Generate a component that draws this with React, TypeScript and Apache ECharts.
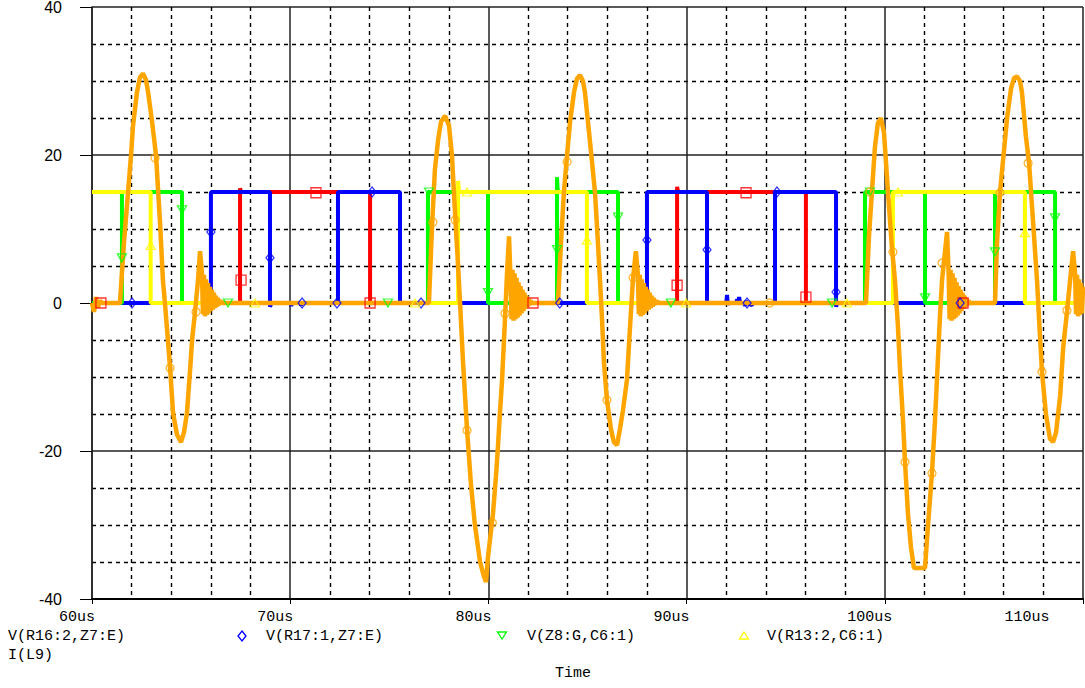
import React, { useEffect, useRef } from "react";
import * as echarts from "echarts";

const SERIES_NAMES = ["V(R16:2,Z7:E)", "V(R17:1,Z7:E)", "V(Z8:G,C6:1)", "V(R13:2,C6:1)", "I(L9)"];
const COLORS = ["#ff0000", "#0000ff", "#00ff00", "#ffff00", "#ffa500"];
const X_UNIT = "us";
const X_AXIS_NAME = "Time";

// V(R16:2,Z7:E)
const RED: number[][] = [
  [60, 0], [67.47, 0], [67.47, 15.5], [67.52, 15], [74.03, 15], [74.03, 0],
  [89.52, 0], [89.52, 15.7], [89.57, 15], [96.02, 15], [96.02, 0], [110, 0],
];

// V(R17:1,Z7:E)
const BLUE: number[][] = [
  [60, 0], [66.0, 0], [66.0, 15], [68.98, 15], [68.98, -0.5], [69.05, 0],
  [70.0, 0], [70.05, -0.4], [70.1, 0], [70.5, 0], [70.55, -0.3], [70.6, 0],
  [72.41, 0], [72.41, 15], [75.54, 15], [75.54, 0],
  [88.0, 0], [88.0, 15], [91.03, 15], [91.03, 0],
  [92.0, 0], [92.04, 1.1], [92.08, -0.2], [92.12, 0], [92.5, 0], [92.55, 0.5], [92.6, -0.2],
  [92.65, 0.8], [92.7, 0], [92.9, 0], [92.95, -0.4], [93.0, 0.3], [93.05, 0], [93.3, -0.3], [93.35, 0],
  [94.46, 0], [94.46, 15], [97.54, 15], [97.54, -0.5], [97.6, 0], [110, 0],
];

// V(Z8:G,C6:1)
const GREEN: number[][] = [
  [60, 0], [61.51, 0], [61.51, 15], [64.54, 15], [64.54, 0],
  [76.95, 0], [76.95, 15], [79.98, 15], [79.98, 0],
  [83.46, 0], [83.46, 17], [83.5, 15], [86.54, 15], [86.54, 0],
  [99.0, 0], [99.0, 15], [102.03, 15], [102.03, 0],
  [105.56, 0], [105.56, 15], [108.59, 15], [108.59, 0], [110, 0],
];

// V(R13:2,C6:1)
const YELLOW: number[][] = [
  [60, 15], [62.96, 15], [62.96, 0],
  [78.47, 0], [78.47, 16.5], [78.52, 15], [84.97, 15], [84.97, 0],
  [100.41, 0], [100.41, 15], [107.07, 15], [107.07, 0], [110, 0],
];

// I(L9)
const ORANGE: number[][] = [
  [60.0, 0], [60.1, -1.2], [60.2, 0.8], [60.3, -0.6], [60.4, 0.3], [60.5, 0], [61.41, 0],
  [61.61, 8], [61.82, 15], [61.97, 20], [62.07, 24], [62.27, 28.5], [62.42, 30.5], [62.57, 31],
  [62.72, 30.2], [62.83, 28.5], [63.03, 24.5], [63.23, 20], [63.43, 11], [63.58, 3], [63.68, 0],
  [63.83, -5], [63.94, -8.8], [64.09, -14.9], [64.29, -17.8], [64.49, -18.8], [64.64, -17.5],
  [64.79, -14.9], [64.95, -9], [65.05, -5], [65.2, -1.2], [65.35, 3.1], [65.45, 7], [65.55, 4],
  [65.6, -1.5], [65.65, 3.8], [65.7, -1.8], [65.75, 3.2], [65.8, -1.6], [65.85, 2.7], [65.9, -1.4],
  [65.95, 2.2], [66.0, -1.1], [66.05, 1.8], [66.1, -0.9], [66.15, 1.4], [66.2, -0.7], [66.25, 1.0],
  [66.3, -0.5], [66.35, 0.7], [66.4, -0.3], [66.45, 0.4], [66.5, -0.1], [66.55, 0.2], [66.6, 0],
  [77.0, 0], [77.15, 10], [77.3, 18], [77.46, 22], [77.61, 24.5], [77.81, 25.3], [78.01, 24],
  [78.16, 20], [78.3, 13], [78.45, 6], [78.57, 0], [78.72, -8], [78.92, -17], [79.12, -24.5],
  [79.32, -30], [79.58, -35], [79.78, -37], [79.88, -37.7], [79.98, -34.3], [80.08, -32],
  [80.23, -28.5], [80.38, -23.5], [80.48, -19.5], [80.59, -14.5], [80.69, -10.4], [80.84, -2],
  [80.94, 4], [81.04, 9], [81.12, 3],
  [81.17, -2.2], [81.22, 4.5], [81.27, -2.4], [81.32, 4.0], [81.37, -2.2], [81.42, 3.4], [81.47, -2.0],
  [81.52, 2.8], [81.57, -1.7], [81.62, 2.3], [81.67, -1.4], [81.72, 1.8], [81.77, -1.1], [81.82, 1.4],
  [81.87, -0.8], [81.92, 1.0], [81.97, -0.5], [82.02, 0.6], [82.07, -0.3], [82.12, 0.3], [82.2, 0],
  [83.51, 0], [83.66, 8], [83.81, 15], [83.97, 20], [84.12, 24.5], [84.32, 28.5], [84.47, 30.3],
  [84.62, 30.8], [84.77, 30], [84.87, 28.5], [85.08, 23], [85.23, 19], [85.38, 14.9], [85.53, 8],
  [85.63, 3.1], [85.73, -2], [85.83, -8], [85.98, -13.1], [86.18, -17], [86.33, -18.8], [86.49, -19.2],
  [86.64, -17], [86.79, -14.5], [86.99, -10.4], [87.14, -3.5], [87.29, 3.1], [87.44, 7], [87.54, 4],
  [87.59, -1.5], [87.64, 3.8], [87.69, -1.8], [87.74, 3.2], [87.79, -1.6], [87.84, 2.7], [87.89, -1.4],
  [87.94, 2.2], [87.99, -1.1], [88.04, 1.8], [88.09, -0.9], [88.14, 1.4], [88.19, -0.7], [88.24, 1.0],
  [88.29, -0.5], [88.34, 0.7], [88.39, -0.3], [88.44, 0.4], [88.49, -0.1], [88.54, 0.2], [88.6, 0],
  [99.05, 0], [99.2, 9], [99.35, 15], [99.5, 21], [99.65, 24.3], [99.8, 25], [99.96, 23],
  [100.16, 15], [100.36, 7.5], [100.51, 3.1], [100.66, -3], [100.77, -9], [100.92, -16],
  [101.02, -21.5], [101.17, -28.5], [101.32, -33], [101.47, -35.8], [101.77, -35.8], [102.03, -35.8],
  [102.18, -30], [102.38, -23], [102.53, -16], [102.63, -10.4], [102.78, -2], [102.89, 3.1],
  [103.04, 7], [103.14, 9.6], [103.22, 4],
  [103.27, -2.2], [103.32, 4.5], [103.37, -2.4], [103.42, 4.0], [103.47, -2.2], [103.52, 3.4], [103.57, -2],
  [103.62, 2.8], [103.67, -1.7], [103.72, 2.3], [103.77, -1.4], [103.82, 1.8], [103.87, -1.1], [103.92, 1.4],
  [103.97, -0.8], [104.02, 1.0], [104.07, -0.5], [104.12, 0.6], [104.17, -0.3], [104.22, 0.3], [104.3, 0],
  [105.56, 0], [105.66, 8], [105.81, 14.9], [106.01, 20.5], [106.17, 25], [106.37, 29], [106.52, 30.4],
  [106.67, 30.6], [106.82, 30], [106.92, 28.5], [107.12, 22.5], [107.28, 18.9], [107.48, 11],
  [107.68, 3.1], [107.78, -2], [107.93, -9.3], [108.13, -15], [108.33, -18.3], [108.49, -18.8],
  [108.64, -17.5], [108.85, -12.5], [109.0, -6], [109.2, -1], [109.35, 3.1], [109.5, 7], [109.6, 4],
  [109.65, -1.5], [109.7, 3.8], [109.75, -1.8], [109.8, 3.2], [109.85, -1.6], [109.9, 2.7], [109.95, -1.4],
  [110, 2.2],
];

// trace markers
const RED_MARKS: number[][] = [
  [60.45, 0], [67.52, 3.1], [71.3, 14.9], [74.03, 0], [82.25, 0], [89.52, 2.4], [93.0, 14.9], [96.02, 0.8], [103.95, 0],
];
const BLUE_MARKS: number[][] = [
  [62.02, 0], [66.0, 9.6], [68.98, 6.1], [70.6, 0], [72.36, 0], [74.13, 15], [76.6, 0], [83.6, 0],
  [88.0, 8.5], [91.03, 7.2], [93.05, 0], [94.56, 15], [97.54, 1.5], [103.8, 0],
];
const GREEN_MARKS: number[][] = [
  [61.51, 6.1], [64.54, 12.6], [66.86, 0], [74.93, 0], [77.0, 15], [79.98, 1.4], [83.46, 7.2],
  [86.54, 11.6], [89.21, 0], [97.34, 0], [99.25, 15], [102.03, 0.7], [105.56, 6.9], [108.59, 11.5],
];
const YELLOW_MARKS: number[][] = [
  [62.96, 7.8], [68.22, 0], [76.3, 0], [78.92, 15], [84.97, 8.5], [89.97, 0], [98.09, 0], [100.67, 15], [107.07, 9.5],
];
const ORANGE_MARKS: number[][] = [
  [63.18, 19.6], [63.94, -8.8], [65.25, -1.2], [77.2, 10.9], [78.32, 11.2], [78.92, -17.2], [80.2, -29.7],
  [80.84, -1.4], [83.97, 19.1], [85.98, -13.1], [87.3, 3.4], [94.2, 0], [99.25, 15], [100.41, 6.9],
  [101.02, -21.5], [102.38, -23], [102.89, 5.4], [105.81, 14.9], [107.23, 18.9], [107.93, -9.3], [109.19, -1],
];

const LINE_DATA = [RED, BLUE, GREEN, YELLOW, ORANGE];
const MARK_DATA = [RED_MARKS, BLUE_MARKS, GREEN_MARKS, YELLOW_MARKS, ORANGE_MARKS];
const MARK_SYMBOLS = ["rect", "diamond", "triangle", "triangle", "circle"];
const MARK_SIZES: number[][] = [[10, 10], [8, 10], [9, 8], [9, 8], [8, 8]];
const MARK_ROTATE = [0, 0, 180, 0, 0];

const MONO = "Liberation Mono";
const LFS = 15;

function buildOption(): any {
  const lines = LINE_DATA.map((d, i) => ({
    type: "line",
    name: SERIES_NAMES[i],
    data: d,
    showSymbol: false,
    symbol: "none",
    silent: true,
    z: 2,
    lineStyle: { color: COLORS[i], width: i === 4 ? 4.5 : 4, join: "bevel", cap: "butt" },
    emphasis: { disabled: true },
  }));
  const marks = MARK_DATA.map((d, i) => ({
    type: "scatter",
    name: SERIES_NAMES[i],
    data: d,
    symbol: MARK_SYMBOLS[i],
    symbolSize: MARK_SIZES[i],
    symbolRotate: MARK_ROTATE[i],
    silent: true,
    z: 5,
    itemStyle: { color: "rgba(255,255,255,0)", borderColor: COLORS[i], borderWidth: 1.3 },
    emphasis: { disabled: true },
  }));

  const txt = (text: string, x: number, y: number, align = "left") => ({
    type: "text",
    x,
    y,
    silent: true,
    style: { text, fill: "#000", fontSize: LFS, fontFamily: MONO, align, verticalAlign: "middle" },
  });

  const legendY = 636;
  const graphic = [
    txt(SERIES_NAMES[0], 8, legendY),
    {
      type: "polygon",
      silent: true,
      shape: { points: [[242, legendY - 5], [246, legendY], [242, legendY + 5], [238, legendY]] },
      style: { fill: "none", stroke: COLORS[1], lineWidth: 1.3 },
    },
    txt(SERIES_NAMES[1], 266, legendY),
    {
      type: "polygon",
      silent: true,
      shape: { points: [[497.5, legendY - 4], [506.5, legendY - 4], [502, legendY + 3]] },
      style: { fill: "none", stroke: COLORS[2], lineWidth: 1.3 },
    },
    txt(SERIES_NAMES[2], 527, legendY),
    {
      type: "polygon",
      silent: true,
      shape: { points: [[744, legendY - 4], [748.5, legendY + 3], [739.5, legendY + 3]] },
      style: { fill: "none", stroke: COLORS[3], lineWidth: 1.3 },
    },
    txt(SERIES_NAMES[3], 767, legendY),
    txt(SERIES_NAMES[4], 8, 655),
  ];

  return {
    animation: false,
    backgroundColor: "#ffffff",
    grid: { left: 92, right: 2, top: 7, bottom: 89, containLabel: false, outerBoundsMode: "none" },
    xAxis: {
      type: "value",
      min: 60,
      max: 110,
      interval: 10,
      name: X_AXIS_NAME,
      nameLocation: "middle",
      nameGap: 67,
      nameTextStyle: { fontFamily: MONO, fontSize: LFS, color: "#000", padding: [0, 29, 0, 0] },
      axisLine: { show: true, onZero: false, lineStyle: { color: "#000", width: 2 } },
      axisTick: { show: true, length: 5, lineStyle: { color: "#000", width: 1 } },
      axisLabel: {
        show: true,
        margin: 11,
        showMinLabel: true,
        showMaxLabel: true,
        color: "#000",
        fontFamily: MONO,
        fontSize: LFS,
        formatter: (v: number) => (v === 110 ? `{last|${v}${X_UNIT}}` : `{n|${v}${X_UNIT}}`),
        rich: {
          n: { fontFamily: MONO, fontSize: LFS, lineHeight: 15, color: "#000", padding: [0, 30, 0, 0] },
          last: { fontFamily: MONO, fontSize: LFS, lineHeight: 15, color: "#000", padding: [0, 112, 0, 0] },
        },
      },
      splitLine: { show: true, lineStyle: { color: "#222", width: 1.5 } },
      minorTick: { show: false, splitNumber: 5 },
      minorSplitLine: { show: true, lineStyle: { color: "#000", width: 1.4, type: [4, 4] } },
    },
    yAxis: {
      type: "value",
      min: -40,
      max: 40,
      interval: 20,
      axisLine: { show: true, onZero: false, lineStyle: { color: "#222", width: 1.5 } },
      axisTick: { show: true, length: 12, lineStyle: { color: "#000", width: 1 } },
      axisLabel: { margin: 30, color: "#000", fontFamily: "Liberation Sans", fontSize: 16 },
      splitLine: { show: true, lineStyle: { color: "#222", width: 1.5 } },
      minorTick: { show: false, splitNumber: 4 },
      minorSplitLine: { show: true, lineStyle: { color: "#000", width: 1.4, type: [4, 4] } },
    },
    series: [...lines, ...marks],
    graphic,
  };
}

export default function App() {
  const ref = useRef<HTMLDivElement>(null);
  useEffect(() => {
    if (!ref.current) return;
    const chart = echarts.init(ref.current, null, { renderer: "svg" });
    chart.setOption(buildOption());
    return () => chart.dispose();
  }, []);
  return (
    <div
      ref={ref}
      style={{ position: "absolute", left: 0, top: 0, width: 1085, height: 688, background: "#fff" }}
    />
  );
}
